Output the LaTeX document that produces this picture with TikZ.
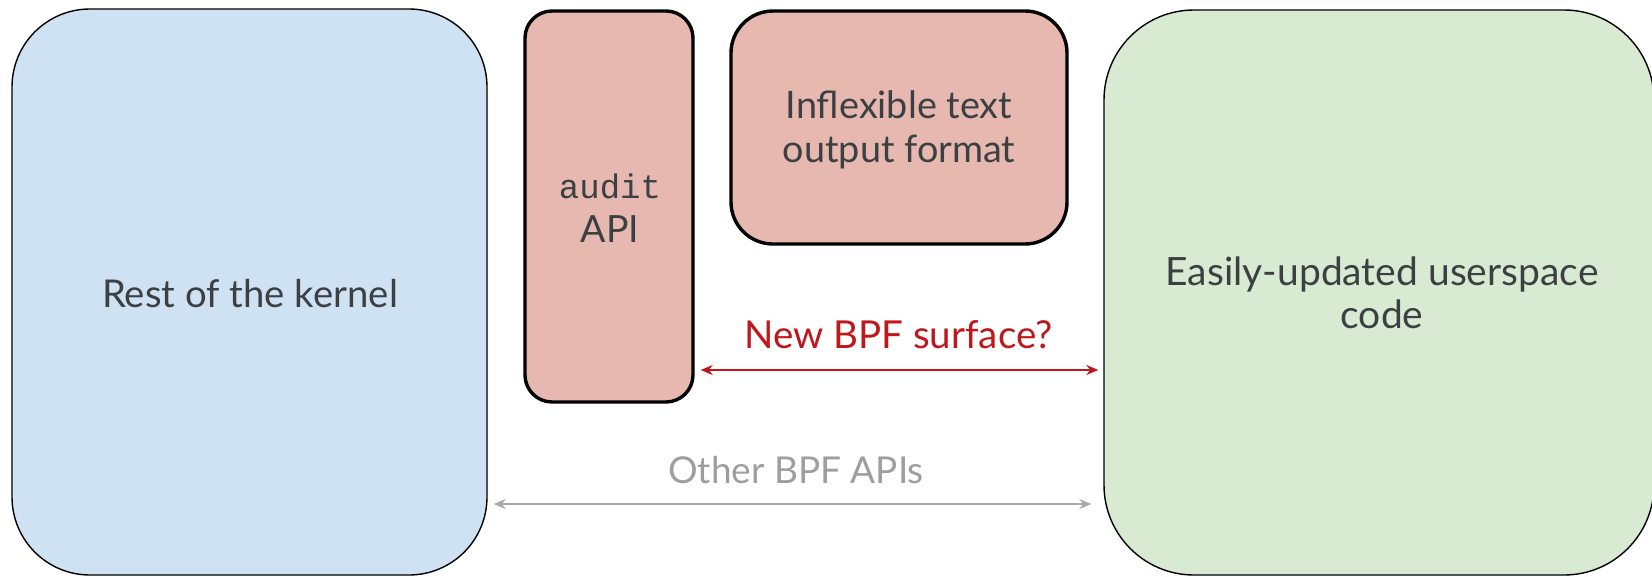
\documentclass[tikz,border=0pt]{standalone}
\usepackage{fontspec}
\setmainfont{Lato}
\setmonofont{Liberation Mono}
\usetikzlibrary{arrows.meta}
\definecolor{kblue}{HTML}{CFE2F3}
\definecolor{kred}{HTML}{E6B8AF}
\definecolor{kgreen}{HTML}{D9EAD3}
\definecolor{txt}{HTML}{3C4043}
\definecolor{redtxt}{HTML}{C0171D}
\definecolor{graytxt}{HTML}{9E9E9E}
\definecolor{grayarr}{HTML}{A8A8A8}
\begin{document}
\begin{tikzpicture}[x=1pt,y=-1pt,
  >={Stealth[length=12pt,width=10pt,inset=4pt]},
  bigbox/.style={draw=black, line width=1.4pt, inner sep=0pt, rectangle},
  boldbox/.style={draw=black, line width=3.4pt, inner sep=0pt, rectangle, fill=kred},
  lbl/.style={anchor=base, inner sep=0pt, text=txt},
  codelbl/.style={anchor=base, inner sep=0pt, text=txt, font=\ttfamily\fontsize{34}{40}\selectfont},
  redlbl/.style={anchor=base, inner sep=0pt, text=redtxt, font=\fontsize{38.5}{43}\selectfont},
  graylbl/.style={anchor=base, inner sep=0pt, text=graytxt, font=\fontsize{37}{43}\selectfont},
  redarr/.style={draw=redtxt, line width=2pt, <->},
  grayarrow/.style={draw=grayarr, line width=2pt, <->}
]
\useasboundingbox (0,0) rectangle (1652,576);
\fill[white] (0,0) rectangle (1652,576);

% boxes
\node[bigbox, fill=kblue, rounded corners=78pt, minimum width=475pt, minimum height=566pt] (kernel) at (249.5,292) {};
\node[bigbox, fill=kgreen, rounded corners=90pt, minimum width=550pt, minimum height=565pt] (user) at (1379,292.5) {};
\node[boldbox, rounded corners=27pt, minimum width=168pt, minimum height=391pt] (audit) at (609,206.5) {};
\node[boldbox, rounded corners=42pt, minimum width=336pt, minimum height=233pt] (inflex) at (899,127.5) {};

% texts
\node[lbl, font=\fontsize{38.3}{43}\selectfont] (kerneltxt) at (250,307) {Rest of the kernel};
\node[codelbl] (audittxt) at (610,198) {audit};
\node[lbl, font=\fontsize{37.5}{43}\selectfont] (apitxt) at (610,242) {API};
\node[lbl, font=\fontsize{37.8}{43}\selectfont] (inflextxtA) at (899,118) {Inflexible text};
\node[lbl, font=\fontsize{37.8}{43}\selectfont] (inflextxtB) at (899,162) {output format};
\node[lbl, font=\fontsize{39}{43}\selectfont] (usertxtA) at (1382,285) {Easily-updated userspace};
\node[lbl, font=\fontsize{39}{43}\selectfont] (usertxtB) at (1382,328) {code};
\node[redlbl] (newtxt) at (898.5,348) {New BPF surface?};
\node[graylbl] (othertxt) at (796,483) {Other BPF APIs};

% connectors
\coordinate (ry) at (0,370);
\coordinate (gy) at (0,504);
\draw[redarr, shorten <=6pt, shorten >=5pt] (audit.east |- ry) -- (user.west |- ry);
\draw[grayarrow, shorten <=6pt, shorten >=12pt] (kernel.east |- gy) -- (user.west |- gy);
\end{tikzpicture}
\end{document}
